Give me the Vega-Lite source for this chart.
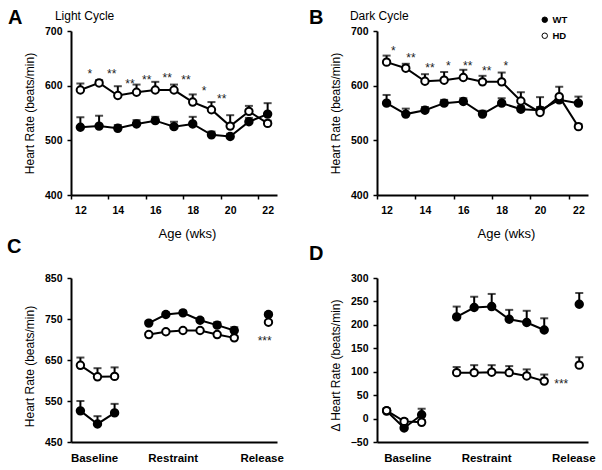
{
  "$schema": "https://vega.github.io/schema/vega-lite/v6.json",
  "padding": {"left": 7, "top": 7, "right": 5, "bottom": 5},
  "config": {
    "font": "Liberation Sans",
    "view": {"stroke": null},
    "axis": {"grid": false, "domainColor": "black", "domainWidth": 2, "tickColor": "black", "tickWidth": 1.5, "tickSize": 4, "labelColor": "black", "labelFontWeight": "bold", "labelFontSize": 10.5, "titleColor": "black", "titleFontWeight": "normal", "titleFontSize": 12, "labelPadding": 5, "titlePadding": 8},
    "title": {"anchor": "start", "frame": "group", "fontSize": 20, "fontWeight": "bold", "color": "black", "offset": 0, "baseline": "alphabetic"}
  },
  "datasets": {
    "light": [
      {"age": 12, "group": "WT", "hr": 524, "hi": 542},
      {"age": 13, "group": "WT", "hr": 526, "hi": 545},
      {"age": 14, "group": "WT", "hr": 522, "hi": 528},
      {"age": 15, "group": "WT", "hr": 530, "hi": 537},
      {"age": 16, "group": "WT", "hr": 536, "hi": 543},
      {"age": 17, "group": "WT", "hr": 525, "hi": 534},
      {"age": 18, "group": "WT", "hr": 530, "hi": 543},
      {"age": 19, "group": "WT", "hr": 510, "hi": 516},
      {"age": 20, "group": "WT", "hr": 507, "hi": 512},
      {"age": 21, "group": "WT", "hr": 534, "hi": 541},
      {"age": 22, "group": "WT", "hr": 548, "hi": 568},
      {"age": 12, "group": "HD", "hr": 592, "hi": 604},
      {"age": 13, "group": "HD", "hr": 605, "hi": 610},
      {"age": 14, "group": "HD", "hr": 582, "hi": 599},
      {"age": 15, "group": "HD", "hr": 588, "hi": 602},
      {"age": 16, "group": "HD", "hr": 592, "hi": 607},
      {"age": 17, "group": "HD", "hr": 592, "hi": 602},
      {"age": 18, "group": "HD", "hr": 570, "hi": 584},
      {"age": 19, "group": "HD", "hr": 556, "hi": 570},
      {"age": 20, "group": "HD", "hr": 526, "hi": 546},
      {"age": 21, "group": "HD", "hr": 553, "hi": 563},
      {"age": 22, "group": "HD", "hr": 531, "hi": 536}
    ],
    "dark": [
      {"age": 12, "group": "WT", "hr": 568, "hi": 583},
      {"age": 13, "group": "WT", "hr": 548, "hi": 558},
      {"age": 14, "group": "WT", "hr": 555, "hi": 561},
      {"age": 15, "group": "WT", "hr": 568, "hi": 574},
      {"age": 16, "group": "WT", "hr": 571, "hi": 577},
      {"age": 17, "group": "WT", "hr": 548, "hi": 554},
      {"age": 18, "group": "WT", "hr": 568, "hi": 577},
      {"age": 19, "group": "WT", "hr": 557, "hi": 563},
      {"age": 20, "group": "WT", "hr": 555, "hi": 561},
      {"age": 21, "group": "WT", "hr": 574, "hi": 580},
      {"age": 22, "group": "WT", "hr": 568, "hi": 580},
      {"age": 12, "group": "HD", "hr": 643, "hi": 655},
      {"age": 13, "group": "HD", "hr": 632, "hi": 640},
      {"age": 14, "group": "HD", "hr": 608, "hi": 621},
      {"age": 15, "group": "HD", "hr": 610, "hi": 625},
      {"age": 16, "group": "HD", "hr": 615, "hi": 629},
      {"age": 17, "group": "HD", "hr": 607, "hi": 618},
      {"age": 18, "group": "HD", "hr": 607, "hi": 624},
      {"age": 19, "group": "HD", "hr": 572, "hi": 588},
      {"age": 20, "group": "HD", "hr": 551, "hi": 579},
      {"age": 21, "group": "HD", "hr": 580, "hi": 598},
      {"age": 22, "group": "HD", "hr": 525, "hi": 530}
    ],
    "restraint": [
      {"idx": 0, "phase": "Baseline", "group": "WT", "hr": 526, "hi": 550},
      {"idx": 1, "phase": "Baseline", "group": "WT", "hr": 494, "hi": 513},
      {"idx": 2, "phase": "Baseline", "group": "WT", "hr": 521, "hi": 543},
      {"idx": 4, "phase": "Restraint", "group": "WT", "hr": 740, "hi": 745},
      {"idx": 5, "phase": "Restraint", "group": "WT", "hr": 761, "hi": 766},
      {"idx": 6, "phase": "Restraint", "group": "WT", "hr": 765, "hi": 770},
      {"idx": 7, "phase": "Restraint", "group": "WT", "hr": 747, "hi": 752},
      {"idx": 8, "phase": "Restraint", "group": "WT", "hr": 735, "hi": 742},
      {"idx": 9, "phase": "Restraint", "group": "WT", "hr": 722, "hi": 730},
      {"idx": 11, "phase": "Release", "group": "WT", "hr": 761, "hi": 766},
      {"idx": 0, "phase": "Baseline", "group": "HD", "hr": 637, "hi": 656},
      {"idx": 1, "phase": "Baseline", "group": "HD", "hr": 609, "hi": 630},
      {"idx": 2, "phase": "Baseline", "group": "HD", "hr": 610, "hi": 632},
      {"idx": 4, "phase": "Restraint", "group": "HD", "hr": 712, "hi": 716},
      {"idx": 5, "phase": "Restraint", "group": "HD", "hr": 719, "hi": 723},
      {"idx": 6, "phase": "Restraint", "group": "HD", "hr": 722, "hi": 726},
      {"idx": 7, "phase": "Restraint", "group": "HD", "hr": 722, "hi": 726},
      {"idx": 8, "phase": "Restraint", "group": "HD", "hr": 712, "hi": 716},
      {"idx": 9, "phase": "Restraint", "group": "HD", "hr": 704, "hi": 708},
      {"idx": 11, "phase": "Release", "group": "HD", "hr": 742, "hi": 746}
    ],
    "delta": [
      {"idx": 0, "phase": "Baseline", "group": "WT", "hr": 16, "hi": 20},
      {"idx": 1, "phase": "Baseline", "group": "WT", "hr": -20, "hi": -14},
      {"idx": 2, "phase": "Baseline", "group": "WT", "hr": 8, "hi": 21},
      {"idx": 4, "phase": "Restraint", "group": "WT", "hr": 217, "hi": 239},
      {"idx": 5, "phase": "Restraint", "group": "WT", "hr": 237, "hi": 260},
      {"idx": 6, "phase": "Restraint", "group": "WT", "hr": 239, "hi": 266},
      {"idx": 7, "phase": "Restraint", "group": "WT", "hr": 212, "hi": 232},
      {"idx": 8, "phase": "Restraint", "group": "WT", "hr": 205, "hi": 230},
      {"idx": 9, "phase": "Restraint", "group": "WT", "hr": 189, "hi": 214},
      {"idx": 11, "phase": "Release", "group": "WT", "hr": 244, "hi": 268},
      {"idx": 0, "phase": "Baseline", "group": "HD", "hr": 17, "hi": 22},
      {"idx": 1, "phase": "Baseline", "group": "HD", "hr": -6, "hi": -1},
      {"idx": 2, "phase": "Baseline", "group": "HD", "hr": -8, "hi": -3},
      {"idx": 4, "phase": "Restraint", "group": "HD", "hr": 98, "hi": 110},
      {"idx": 5, "phase": "Restraint", "group": "HD", "hr": 98, "hi": 114},
      {"idx": 6, "phase": "Restraint", "group": "HD", "hr": 99, "hi": 114},
      {"idx": 7, "phase": "Restraint", "group": "HD", "hr": 98, "hi": 112},
      {"idx": 8, "phase": "Restraint", "group": "HD", "hr": 91, "hi": 105},
      {"idx": 9, "phase": "Restraint", "group": "HD", "hr": 80, "hi": 94},
      {"idx": 11, "phase": "Release", "group": "HD", "hr": 114, "hi": 131}
    ],
    "starsA": [
      {"age": 12.51, "y": 626, "label": "*"},
      {"age": 13.67, "y": 626, "label": "**"},
      {"age": 14.65, "y": 608, "label": "**"},
      {"age": 15.54, "y": 615, "label": "**"},
      {"age": 16.64, "y": 619, "label": "**"},
      {"age": 17.64, "y": 616, "label": "**"},
      {"age": 18.6, "y": 595, "label": "*"},
      {"age": 19.55, "y": 581, "label": "**"}
    ],
    "starsB": [
      {"age": 12.35, "y": 668, "label": "*"},
      {"age": 13.27, "y": 656, "label": "**"},
      {"age": 14.26, "y": 638, "label": "**"},
      {"age": 15.22, "y": 642, "label": "*"},
      {"age": 16.23, "y": 642, "label": "**"},
      {"age": 17.22, "y": 633, "label": "**"},
      {"age": 18.22, "y": 641, "label": "*"}
    ],
    "starsC": [{"idx": 10.78, "y": 703, "label": "***"}],
    "starsD": [{"idx": 9.97, "y": 81, "label": "***"}],
    "labelA": [{"age": 10.64, "y": 721, "label": "Light Cycle"}],
    "labelB": [{"age": 10.09, "y": 721, "label": "Dark Cycle"}]
  },
  "columns": 2,
  "spacing": {"row": 83, "column": 100},
  "bounds": "flush",
  "align": "each",
  "resolve": {"scale": {"fill": "independent"}, "legend": {"fill": "independent"}},
  "concat": [
    {
      "title": {"text": "A", "dx": -63, "dy": 22},
      "width": 206,
      "height": 164,
      "data": {"name": "light"},
      "encoding": {
        "x": {"field": "age", "type": "quantitative", "scale": {"domain": [11.5, 22.5], "nice": false, "zero": false},
              "axis": {"values": [11.5, 13.5, 15.5, 17.5, 19.5, 21.5], "labelExpr": "format(datum.value + 0.5, 'd')", "labelOffset": 9.4, "labelFlush": false, "labelPadding": 6, "title": "Age (wks)", "titleFontSize": 13, "titlePadding": 12, "titleX": 116}},
        "y": {"field": "hr", "type": "quantitative", "scale": {"domain": [400, 700], "nice": false, "zero": false},
              "axis": {"values": [400, 500, 600, 700], "title": "Heart Rate (beats/min)"}}
      },
      "layer": [
        {"mark": {"type": "rule", "color": "black", "strokeWidth": 2}, "encoding": {"y2": {"field": "hi"}}},
        {"mark": {"type": "tick", "orient": "horizontal", "color": "black", "thickness": 2, "size": 8}, "encoding": {"y": {"field": "hi", "type": "quantitative"}}},
        {"mark": {"type": "line", "color": "black", "strokeWidth": 2}, "encoding": {"detail": {"field": "group"}}},
        {"mark": {"type": "point", "shape": "circle", "filled": true, "stroke": "black", "strokeWidth": 2, "size": 55, "opacity": 1},
         "encoding": {"fill": {"field": "group", "type": "nominal", "scale": {"domain": ["WT", "HD"], "range": ["black", "white"]}, "legend": null}}},
        {"data": {"name": "starsA"}, "mark": {"type": "text", "fontSize": 12, "color": "#222", "baseline": "alphabetic", "dy": 7},
         "encoding": {"y": {"field": "y", "type": "quantitative"}, "text": {"field": "label"}}},
        {"data": {"name": "labelA"}, "mark": {"type": "text", "align": "left", "baseline": "alphabetic", "fontSize": 12, "color": "black"},
         "encoding": {"y": {"field": "y", "type": "quantitative"}, "text": {"field": "label"}}}
      ]
    },
    {
      "title": {"text": "B", "dx": -68, "dy": 22},
      "width": 211,
      "height": 164,
      "data": {"name": "dark"},
      "encoding": {
        "x": {"field": "age", "type": "quantitative", "scale": {"domain": [11.5, 22.5], "nice": false, "zero": false},
              "axis": {"values": [11.5, 13.5, 15.5, 17.5, 19.5, 21.5], "labelExpr": "format(datum.value + 0.5, 'd')", "labelOffset": 9.6, "labelFlush": false, "labelPadding": 6, "title": "Age (wks)", "titleFontSize": 13, "titlePadding": 12, "titleX": 129}},
        "y": {"field": "hr", "type": "quantitative", "scale": {"domain": [400, 700], "nice": false, "zero": false},
              "axis": {"values": [400, 500, 600, 700], "title": "Heart Rate (beats/min)"}}
      },
      "layer": [
        {"mark": {"type": "rule", "color": "black", "strokeWidth": 2}, "encoding": {"y2": {"field": "hi"}}},
        {"mark": {"type": "tick", "orient": "horizontal", "color": "black", "thickness": 2, "size": 8}, "encoding": {"y": {"field": "hi", "type": "quantitative"}}},
        {"mark": {"type": "line", "color": "black", "strokeWidth": 2}, "encoding": {"detail": {"field": "group"}}},
        {"mark": {"type": "point", "shape": "circle", "filled": true, "stroke": "black", "strokeWidth": 2, "size": 55, "opacity": 1},
         "encoding": {"fill": {"field": "group", "type": "nominal", "scale": {"domain": ["WT", "HD"], "range": ["black", "white"]},
           "legend": {"orient": "none", "legendX": 163, "legendY": -16, "title": null, "padding": 0, "symbolType": "circle", "symbolSize": 30, "symbolStrokeColor": "black", "symbolStrokeWidth": 1, "labelFontSize": 9.5, "labelFontWeight": "bold", "labelColor": "black", "labelOffset": 3, "rowPadding": 5}}}},
        {"data": {"name": "starsB"}, "mark": {"type": "text", "fontSize": 12, "color": "#222", "baseline": "alphabetic", "dy": 7},
         "encoding": {"y": {"field": "y", "type": "quantitative"}, "text": {"field": "label"}}},
        {"data": {"name": "labelB"}, "mark": {"type": "text", "align": "left", "baseline": "alphabetic", "fontSize": 12, "color": "black"},
         "encoding": {"y": {"field": "y", "type": "quantitative"}, "text": {"field": "label"}}}
      ]
    },
    {
      "title": {"text": "C", "dx": -64, "dy": -12.5},
      "width": 206,
      "height": 164,
      "data": {"name": "restraint"},
      "encoding": {
        "x": {"field": "idx", "type": "quantitative", "scale": {"domain": [-0.55, 11.5], "nice": false, "zero": false},
              "axis": {"values": [0.8, 5.4, 10.6], "labelExpr": "datum.value < 3 ? 'Baseline' : datum.value < 8 ? 'Restraint' : 'Release'", "ticks": false, "labelFlush": false, "labelFontSize": 11.5, "labelPadding": 10.5, "title": null}},
        "y": {"field": "hr", "type": "quantitative", "scale": {"domain": [450, 850], "nice": false, "zero": false},
              "axis": {"values": [450, 550, 650, 750, 850], "title": "Heart Rate (beats/min)", "titleY": 88}}
      },
      "layer": [
        {"mark": {"type": "rule", "color": "black", "strokeWidth": 2}, "encoding": {"y2": {"field": "hi"}}},
        {"mark": {"type": "tick", "orient": "horizontal", "color": "black", "thickness": 2, "size": 8}, "encoding": {"y": {"field": "hi", "type": "quantitative"}}},
        {"mark": {"type": "line", "color": "black", "strokeWidth": 2}, "encoding": {"detail": [{"field": "group"}, {"field": "phase"}]}},
        {"mark": {"type": "point", "shape": "circle", "filled": true, "stroke": "black", "strokeWidth": 2, "size": 55, "opacity": 1},
         "encoding": {"fill": {"field": "group", "type": "nominal", "scale": {"domain": ["WT", "HD"], "range": ["black", "white"]}, "legend": null}}},
        {"data": {"name": "starsC"}, "mark": {"type": "text", "fontSize": 12, "color": "#222", "baseline": "alphabetic", "dy": 7},
         "encoding": {"y": {"field": "y", "type": "quantitative"}, "text": {"field": "label"}}}
      ]
    },
    {
      "title": {"text": "D", "dx": -68, "dy": -5.5},
      "width": 211,
      "height": 164,
      "data": {"name": "delta"},
      "encoding": {
        "x": {"field": "idx", "type": "quantitative", "scale": {"domain": [-0.55, 11.5], "nice": false, "zero": false},
              "axis": {"values": [1.18, 5.68, 10.66], "labelExpr": "datum.value < 3 ? 'Baseline' : datum.value < 8 ? 'Restraint' : 'Release'", "ticks": false, "labelFlush": false, "labelFontSize": 11.5, "labelPadding": 10.5, "title": null}},
        "y": {"field": "hr", "type": "quantitative", "scale": {"domain": [-50, 300], "nice": false, "zero": false},
              "axis": {"values": [-50, 0, 50, 100, 150, 200, 250, 300], "title": "Δ Heart Rate (beats/min)", "titleY": 87}}
      },
      "layer": [
        {"mark": {"type": "rule", "color": "black", "strokeWidth": 2}, "encoding": {"y2": {"field": "hi"}}},
        {"mark": {"type": "tick", "orient": "horizontal", "color": "black", "thickness": 2, "size": 8}, "encoding": {"y": {"field": "hi", "type": "quantitative"}}},
        {"mark": {"type": "line", "color": "black", "strokeWidth": 2}, "encoding": {"detail": [{"field": "group"}, {"field": "phase"}]}},
        {"mark": {"type": "point", "shape": "circle", "filled": true, "stroke": "black", "strokeWidth": 2, "size": 55, "opacity": 1},
         "encoding": {"fill": {"field": "group", "type": "nominal", "scale": {"domain": ["WT", "HD"], "range": ["black", "white"]}, "legend": null}}},
        {"data": {"name": "starsD"}, "mark": {"type": "text", "fontSize": 12, "color": "#222", "baseline": "alphabetic", "dy": 7},
         "encoding": {"y": {"field": "y", "type": "quantitative"}, "text": {"field": "label"}}}
      ]
    }
  ]
}
